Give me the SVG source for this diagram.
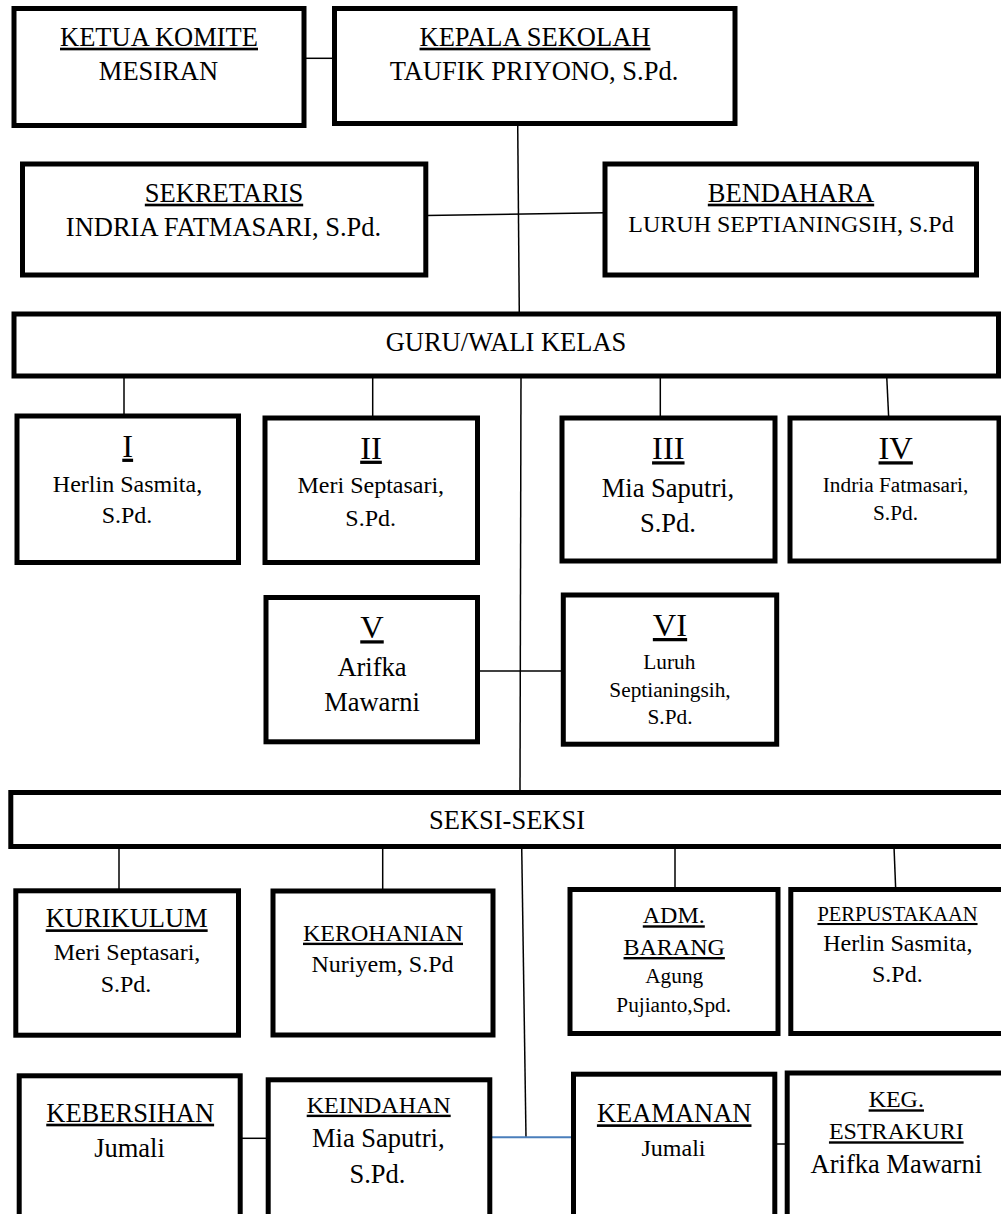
<svg xmlns="http://www.w3.org/2000/svg" width="1001" height="1214" viewBox="0 0 1001 1214">
<style>
.box{fill:#fff;stroke:#000;stroke-width:5}
.ln{stroke:#000;stroke-width:1.5;fill:none}
.blue{stroke:#4A7EBB;stroke-width:2;fill:none}
text{font-family:"Liberation Serif","Times New Roman",serif;fill:#000;text-anchor:middle}
.u{text-decoration:underline}
.f265{font-size:26.5px}
.f24{font-size:24px}
.f215{font-size:21.3px}
.f205{font-size:20.5px}
.f32{font-size:32.5px}
</style>
<rect width="1001" height="1214" fill="#fff"/>
<g id="connectors">
<path class="ln" d="M306 58.3H334.5"/>
<path class="ln" d="M517.7 123.5L519.3 314"/>
<path class="ln" d="M425.8 215.5L605 212.7"/>
<path class="ln" d="M124 376V416"/>
<path class="ln" d="M372.7 376V418"/>
<path class="ln" d="M660.3 376V418"/>
<path class="ln" d="M886.7 376L888.7 418"/>
<path class="ln" d="M521 376L520 792.5"/>
<path class="ln" d="M477.5 671H563.3"/>
<path class="ln" d="M119 846.5V890.8"/>
<path class="ln" d="M382.7 846.5V891"/>
<path class="ln" d="M675 846.5V889.5"/>
<path class="ln" d="M894 846.5L895.7 889.5"/>
<path class="ln" d="M521.7 846.5L526 1137.3"/>
<path class="ln" d="M240.2 1138.3H268.2"/>
<path class="blue" d="M489.8 1137.3H573.5"/>
<path class="ln" d="M774.8 1144H787.2"/>
</g>
<g id="ketua-komite">
<rect class="box" x="14" y="8.5" width="290" height="117"/>
<text class="f265 u" x="159" y="45.7">KETUA KOMITE</text>
<text class="f265" x="158.5" y="80">MESIRAN</text>
</g>
<g id="kepala-sekolah">
<rect class="box" x="334.5" y="8.5" width="400.5" height="115"/>
<text class="f265 u" x="535" y="45.7">KEPALA SEKOLAH</text>
<text class="f265" x="534" y="80">TAUFIK PRIYONO, S.Pd.</text>
</g>
<g id="sekretaris">
<rect class="box" x="22.5" y="164" width="403.3" height="111"/>
<text class="f265 u" x="224" y="201.7">SEKRETARIS</text>
<text class="f265" x="223.5" y="236">INDRIA FATMASARI, S.Pd.</text>
</g>
<g id="bendahara">
<rect class="box" x="605" y="164" width="371.5" height="111"/>
<text class="f265 u" x="791" y="201.7">BENDAHARA</text>
<text class="f24" x="791" y="232.3">LURUH SEPTIANINGSIH, S.Pd</text>
</g>
<g id="guru-wali-kelas">
<rect class="box" x="14" y="314" width="984.5" height="62"/>
<text class="f265" x="506" y="350.7">GURU/WALI KELAS</text>
</g>
<g id="kelas-1">
<rect class="box" x="17" y="416" width="221.5" height="146.5"/>
<text class="f32 u" x="127.7" y="456.7">I</text>
<text class="f24" x="127.5" y="491.7">Herlin Sasmita,</text>
<text class="f24" x="127" y="523.3">S.Pd.</text>
</g>
<g id="kelas-2">
<rect class="box" x="265" y="418" width="212.5" height="144.5"/>
<text class="f32 u" x="371" y="458.7">II</text>
<text class="f24" x="370.8" y="493.3">Meri Septasari,</text>
<text class="f24" x="370.7" y="525.7">S.Pd.</text>
</g>
<g id="kelas-3">
<rect class="box" x="562" y="418" width="213" height="143"/>
<text class="f32 u" x="668.3" y="459.3">III</text>
<text class="f265" x="668" y="496.7">Mia Saputri,</text>
<text class="f265" x="668" y="531.7">S.Pd.</text>
</g>
<g id="kelas-4">
<rect class="box" x="790" y="418" width="209" height="143"/>
<text class="f32 u" x="895.7" y="459.3">IV</text>
<text class="f215" x="895.5" y="492.3">Indria Fatmasari,</text>
<text class="f215" x="895.5" y="520">S.Pd.</text>
</g>
<g id="kelas-5">
<rect class="box" x="266" y="597.5" width="211.5" height="144.3"/>
<text class="f32 u" x="372" y="638.3">V</text>
<text class="f265" x="372" y="676">Arifka</text>
<text class="f265" x="372" y="710.7">Mawarni</text>
</g>
<g id="kelas-6">
<rect class="box" x="563.3" y="595" width="213.4" height="149.2"/>
<text class="f32 u" x="670" y="636">VI</text>
<text class="f215" x="669.3" y="669">Luruh</text>
<text class="f215" x="670" y="696.7">Septianingsih,</text>
<text class="f215" x="670" y="724.3">S.Pd.</text>
</g>
<g id="seksi-seksi">
<rect class="box" x="10.8" y="792.5" width="1000" height="54"/>
<text class="f265" x="507" y="829">SEKSI-SEKSI</text>
</g>
<g id="kurikulum">
<rect class="box" x="15.8" y="890.8" width="222.7" height="144.4"/>
<text class="f265 u" x="126.7" y="927.3">KURIKULUM</text>
<text class="f24" x="127" y="960">Meri Septasari,</text>
<text class="f24" x="126" y="991.7">S.Pd.</text>
</g>
<g id="kerohanian">
<rect class="box" x="273" y="891" width="220" height="144"/>
<text class="f24 u" x="383" y="940.7">KEROHANIAN</text>
<text class="f24" x="382.5" y="971.7">Nuriyem, S.Pd</text>
</g>
<g id="adm-barang">
<rect class="box" x="570" y="889.5" width="208" height="144"/>
<text class="f24 u" x="673.8" y="923.3">ADM.</text>
<text class="f24 u" x="674.2" y="955">BARANG</text>
<text class="f215" x="674.2" y="983.3">Agung</text>
<text class="f215" x="673.7" y="1011.7">Pujianto,Spd.</text>
</g>
<g id="perpustakaan">
<rect class="box" x="790.8" y="889.5" width="220" height="144"/>
<text class="f205 u" x="897.5" y="921">PERPUSTAKAAN</text>
<text class="f24" x="897.8" y="951">Herlin Sasmita,</text>
<text class="f24" x="897.3" y="982.3">S.Pd.</text>
</g>
<g id="kebersihan">
<rect class="box" x="19.2" y="1075.8" width="221" height="160"/>
<text class="f265 u" x="130.2" y="1121.7">KEBERSIHAN</text>
<text class="f265" x="129.5" y="1156.7">Jumali</text>
</g>
<g id="keindahan">
<rect class="box" x="268.2" y="1079.8" width="221.6" height="160"/>
<text class="f24 u" x="378.7" y="1112.7">KEINDAHAN</text>
<text class="f265" x="378.3" y="1147.3">Mia Saputri,</text>
<text class="f265" x="377.5" y="1182.7">S.Pd.</text>
</g>
<g id="keamanan">
<rect class="box" x="573.5" y="1074.2" width="201.3" height="160"/>
<text class="f265 u" x="674.2" y="1122.3">KEAMANAN</text>
<text class="f24" x="673.5" y="1155.7">Jumali</text>
</g>
<g id="keg-estrakuri">
<rect class="box" x="787.2" y="1073" width="230" height="160"/>
<text class="f24 u" x="896.3" y="1107.3">KEG.</text>
<text class="f24 u" x="896.3" y="1139.3">ESTRAKURI</text>
<text class="f265" x="896.3" y="1173.3">Arifka Mawarni</text>
</g>
</svg>
